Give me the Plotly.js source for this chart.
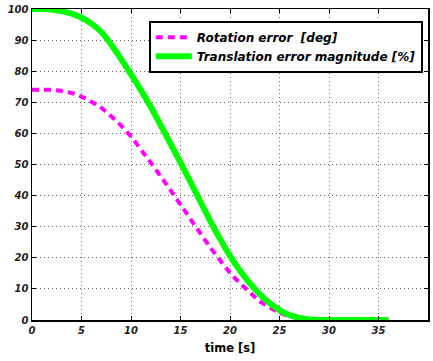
<!DOCTYPE html>
<html><head><meta charset="utf-8">
<script src="https://cdn.plot.ly/plotly-3.0.1.min.js"></script>
<style>html,body{margin:0;padding:0;background:#fff}#c{width:433px;height:361px}</style>
</head><body><div id="c"></div>
<script>
const time = [0,1,2,3,4,5,6,7,8,9,10,11,12,13,14,15,16,17,18,19,20,21,22,23,24,25,26,27,28,29,30,31,32,33,34,35,36];
const rotationError = [74,74,74,73.6,73,71.8,70.2,68.2,65.5,62.5,59,54.8,50.6,46.2,41.7,37.1,32.5,27.9,23.4,19.2,15.2,11.9,8.9,6.1,4,2.4,1.2,0.5,0.1,0,0,0,0,0,0,0,0];
const translationError = [100,100,99.8,99.3,98.5,97.2,95.3,92.6,88.5,83.9,79,73.9,68.5,62.6,56.6,50.6,44.4,38.1,31.9,26,20.6,15.9,11.8,8.3,5.4,3.2,1.6,0.7,0.2,0,0,0,0,0,0,0,0];
const seriesNames = ['Rotation error  [deg]', 'Translation error magnitude [%]'];
const xTicks = [0,5,10,15,20,25,30,35,40];
const yTicks = [0,10,20,30,40,50,60,70,80,90,100];

const bi = s => '<b><i>' + s + '</i></b>';
const tickFont = {family:'DejaVu Sans, sans-serif', size:10, color:'#222', weight:'bold', style:'italic'};
const axisCommon = {
  showline:true, linecolor:'#000', linewidth:1.5, mirror:'ticks',
  ticks:'inside', ticklen:4, tickcolor:'#000', tickwidth:1,
  showgrid:true, gridcolor:'#666', griddash:'1px,3px', gridwidth:1,
  zeroline:false, tickfont:tickFont, tickmode:'array'
};
const data = [
  {x:time, y:rotationError, name:bi(seriesNames[0].replace('  ', '&nbsp; ')), mode:'lines', type:'scatter',
   line:{color:'#ff00ff', width:4, dash:'7px,5px', shape:'spline'}},
  {x:time, y:translationError, name:bi(seriesNames[1]), mode:'lines', type:'scatter',
   line:{color:'#00ff00', width:6, shape:'spline'}}
];
const layout = {
  width:433, height:361,
  margin:{l:32, r:5, t:9, b:41},
  paper_bgcolor:'#fff', plot_bgcolor:'#fff',
  xaxis:Object.assign({}, axisCommon, {range:[0,40], tickvals:xTicks, ticktext:xTicks.map(v => bi(String(v))),
    title:{text:'<b>time [s]</b>', font:{family:'DejaVu Sans, sans-serif', size:11.5, color:'#000', weight:'bold'}, standoff:9}}),
  yaxis:Object.assign({}, axisCommon, {range:[0,100], tickvals:yTicks, ticktext:yTicks.map(v => bi(String(v)))}),
  showlegend:true,
  legend:{x:0.295, y:0.962, xanchor:'left', yanchor:'top', bgcolor:'#fff', bordercolor:'#000', borderwidth:2,
    font:{family:'DejaVu Sans, sans-serif', size:12, color:'#000', weight:'bold', style:'italic'},
    tracegroupgap:0, itemwidth:36}
};
Plotly.newPlot('c', data, layout, {displayModeBar:false, staticPlot:true});
</script></body></html>
